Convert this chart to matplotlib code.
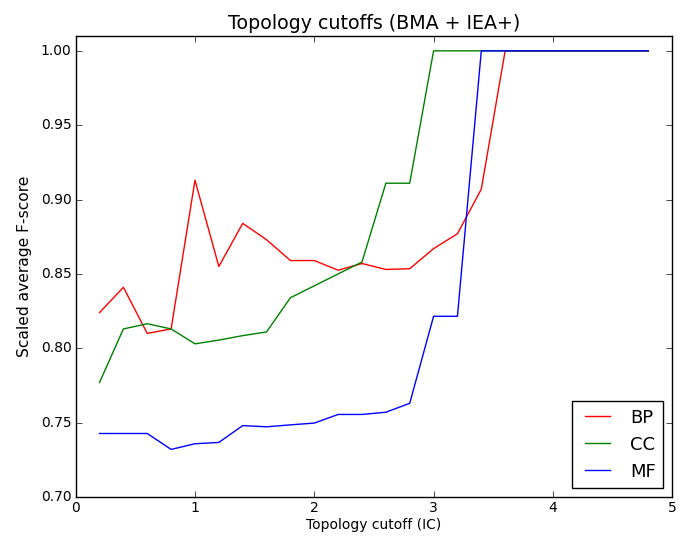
import matplotlib
matplotlib.use("Agg")
import matplotlib.pyplot as plt

plt.style.use("classic")

cutoffs = [0.2, 0.4, 0.6, 0.8, 1.0, 1.2, 1.4, 1.6, 1.8, 2.0, 2.2, 2.4,
           2.6, 2.8, 3.0, 3.2, 3.4, 3.6, 3.8, 4.0, 4.2, 4.4, 4.6, 4.8]

bp = [0.824, 0.841, 0.810, 0.813, 0.913, 0.855, 0.884, 0.873, 0.859, 0.859,
      0.8525, 0.857, 0.853, 0.8535, 0.867, 0.877, 0.907, 1.0, 1.0, 1.0,
      1.0, 1.0, 1.0, 1.0]
cc = [0.777, 0.813, 0.8165, 0.813, 0.803, 0.8055, 0.8085, 0.811, 0.834, 0.842,
      0.850, 0.858, 0.911, 0.911, 1.0, 1.0, 1.0, 1.0, 1.0, 1.0,
      1.0, 1.0, 1.0, 1.0]
mf = [0.7427, 0.7427, 0.7427, 0.732, 0.7358, 0.7367, 0.748, 0.7472, 0.7485, 0.7497,
      0.7555, 0.7555, 0.757, 0.763, 0.8215, 0.8215, 1.0, 1.0, 1.0, 1.0,
      1.0, 1.0, 1.0, 1.0]

fig = plt.figure(figsize=(6.88, 5.37), dpi=100, facecolor="white")
ax = fig.add_axes([0.110, 0.0745, 0.867, 0.8585])

ax.plot(cutoffs, bp, color="r", label="BP")
ax.plot(cutoffs, cc, color="g", label="CC")
ax.plot(cutoffs, mf, color="b", label="MF")

ax.set_xlim(0, 5)
ax.set_ylim(0.70, 1.01)
ax.set_yticks([0.70, 0.75, 0.80, 0.85, 0.90, 0.95, 1.00])
ax.set_title("Topology cutoffs (BMA + IEA+)", fontsize=13.7)
ax.set_xlabel("Topology cutoff (IC)", fontsize=10, labelpad=2)
ax.set_ylabel("Scaled average F-score", fontsize=11.2, labelpad=6)
ax.tick_params(labelsize=10, pad=3)
ax.legend(loc="lower right", fontsize=13)

fig.savefig("out.png", dpi=100, facecolor="white")
